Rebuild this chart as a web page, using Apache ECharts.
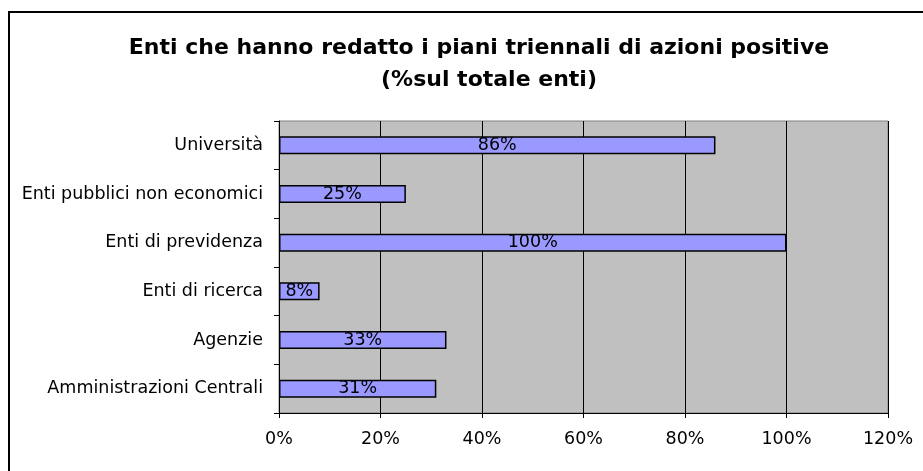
<!DOCTYPE html>
<html>
<head>
<meta charset="utf-8">
<script src="https://cdn.jsdelivr.net/npm/echarts@6/dist/echarts.min.js"></script>
<style>
  html, body { margin: 0; padding: 0; background: #fff; }
  #chart { width: 923px; height: 471px; }
</style>
</head>
<body>
<div id="chart"></div>
<script>
// categories top to bottom
const categories = [
  'Università',
  'Enti pubblici non economici',
  'Enti di previdenza',
  'Enti di ricerca',
  'Agenzie',
  'Amministrazioni Centrali'
];
const percentValues = [86, 25, 100, 8, 33, 31];
const xTicks = [0, 20, 40, 60, 80, 100, 120];
const titleLines = [
  'Enti che hanno redatto i piani triennali di azioni positive',
  '(%sul totale enti)'
];

const FONT = '"DejaVu Sans", "Liberation Sans", Arial, sans-serif';

const chart = echarts.init(document.getElementById('chart'));

const titleStyle = {
  fontSize: 22,
  fontWeight: 'bold',
  color: '#000',
  fontFamily: FONT
};

const option = {
  animation: false,
  backgroundColor: '#fff',
  textStyle: { fontFamily: FONT },
  title: [
    { text: titleLines[0], left: 474, textAlign: 'center', top: 32, textStyle: titleStyle },
    { text: titleLines[1], left: 484, textAlign: 'center', top: 64, textStyle: titleStyle }
  ],
  graphic: [
    {
      type: 'rect',
      shape: { x: 9, y: 12, width: 1000, height: 600 },
      style: { fill: 'none', stroke: '#000', lineWidth: 2 },
      silent: true
    }
  ],
  grid: {
    left: 279,
    right: 35,
    top: 121,
    bottom: 58,
    show: true,
    backgroundColor: '#c0c0c0',
    borderColor: '#808080',
    borderWidth: 1
  },
  xAxis: {
    type: 'value',
    min: xTicks[0],
    max: xTicks[xTicks.length - 1],
    interval: 20,
    axisLine: { show: true, lineStyle: { color: '#000', width: 1 } },
    axisTick: { show: true, length: 5, lineStyle: { color: '#000' } },
    axisLabel: {
      formatter: v => v + '%',
      fontSize: 17.5,
      color: '#000',
      margin: 17
    },
    splitLine: { show: true, lineStyle: { color: '#000', width: 1 } }
  },
  yAxis: {
    type: 'category',
    data: categories,
    inverse: true,
    axisLine: { show: true, lineStyle: { color: '#000', width: 1 } },
    axisTick: { show: true, length: 5, lineStyle: { color: '#000' } },
    axisLabel: { fontSize: 17.5, color: '#000', margin: 16 },
    splitLine: { show: false }
  },
  series: [
    {
      type: 'bar',
      data: percentValues,
      barWidth: 18,
      itemStyle: {
        color: '#9999ff',
        borderColor: '#000',
        borderWidth: 1.5
      },
      label: {
        show: true,
        position: 'inside',
        formatter: p => p.value + '%',
        fontSize: 17.5,
        color: '#000'
      }
    }
  ]
};

chart.setOption(option);
</script>
</body>
</html>
